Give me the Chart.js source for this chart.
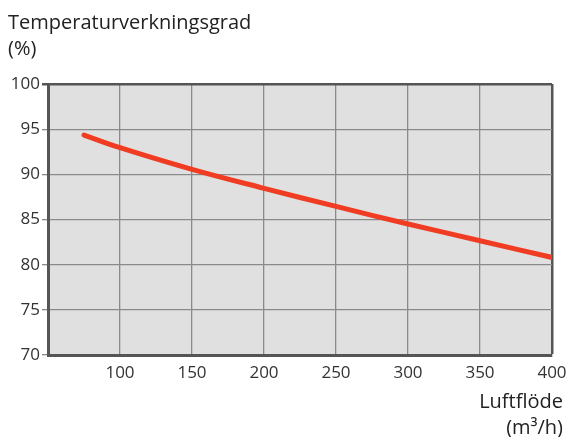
<!DOCTYPE html>
<html>
<head>
<meta charset="utf-8">
<script src="https://cdn.jsdelivr.net/npm/chart.js@4/dist/chart.umd.min.js"></script>
<style>
    html, body { margin: 0; padding: 0; background: #fff; }
    #wrap { position: relative; width: 566px; height: 437px; }
    .label {
        position: absolute;
        font-family: "Open Sans", sans-serif;
        font-size: 20px;
        line-height: 26px;
        color: #222;
        white-space: nowrap;
    }
    #yTitle { left: 8px; top: 9px; }
    #xTitle { right: 3px; top: 388px; text-align: right; }
</style>
</head>
<body>
<div id="wrap">
    <canvas id="chart" width="566" height="437"></canvas>
    <div class="label" id="yTitle">Temperaturverkningsgrad<br>(%)</div>
    <div class="label" id="xTitle">Luftflöde<br>(m³/h)</div>
</div>
<script>
// ===============================
// DATA
// ===============================

const airflow = [75, 100, 150, 200, 250, 300, 350, 400];
const efficiency = [94.35, 92.95, 90.55, 88.45, 86.45, 84.5, 82.65, 80.8];

const xTicks = [50, 100, 150, 200, 250, 300, 350, 400];
const yTicks = [70, 75, 80, 85, 90, 95, 100];


// ===============================
// PLOT BACKGROUND
// ===============================

const plotBackground = {
    id: 'plotBackground',
    beforeDraw(chart) {
        const a = chart.chartArea;
        const ctx = chart.ctx;
        ctx.save();
        ctx.fillStyle = '#e0e0e0';
        ctx.fillRect(a.left, a.top, a.right - a.left, a.bottom - a.top);
        ctx.restore();
    }
};


// ===============================
// CHART SETUP
// ===============================

const ctx = document.getElementById('chart').getContext('2d');

new Chart(ctx, {
    type: 'line',
    data: {
        datasets: [{
            data: airflow.map((x, i) => ({ x: x, y: efficiency[i] })),
            borderColor: '#f03c22',
            borderWidth: 5,
            borderCapStyle: 'round',
            pointRadius: 0,
            fill: false,
            tension: 0.4
        }]
    },
    options: {
        responsive: false,
        animation: false,
        layout: {
            padding: { top: 84, left: 0, right: 0, bottom: 52 }
        },
        plugins: {
            legend: { display: false },
            tooltip: { enabled: false }
        },
        scales: {
            x: {
                type: 'linear',
                min: 50,
                max: 400,
                afterBuildTicks: s => { s.ticks = xTicks.map(v => ({ value: v })); },
                afterFit: s => { s.height = 30; s.paddingRight = 14; },
                border: { color: '#555', width: 3 },
                grid: {
                    drawTicks: false,
                    color: c => c.tick && c.tick.value === 400 ? '#555' : '#8a8a8a',
                    lineWidth: c => c.tick && c.tick.value === 400 ? 2.5 : 1.3
                },
                ticks: {
                    padding: 8,
                    color: '#333',
                    font: { family: 'Open Sans', size: 17 },
                    callback: v => v === 50 ? '' : v,
                    maxRotation: 0
                }
            },
            y: {
                min: 70,
                max: 100,
                afterBuildTicks: s => { s.ticks = yTicks.map(v => ({ value: v })); },
                afterFit: s => { s.width = 48; },
                border: { color: '#555', width: 3 },
                grid: {
                    tickLength: 6,
                    color: c => c.tick && c.tick.value === 100 ? '#555' : '#8a8a8a',
                    lineWidth: c => c.tick && c.tick.value === 100 ? 2.5 : 1.3
                },
                ticks: {
                    padding: 2,
                    color: '#333',
                    font: { family: 'Open Sans', size: 17 }
                }
            }
        }
    },
    plugins: [plotBackground]
});
</script>
</body>
</html>
